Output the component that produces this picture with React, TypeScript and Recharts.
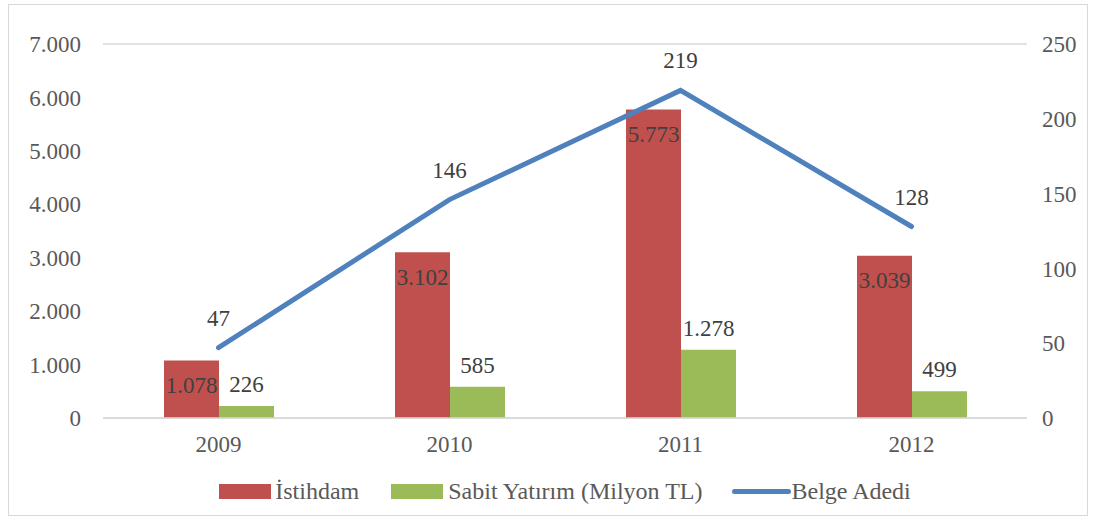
import React from "react";
import {
  ComposedChart,
  CartesianGrid,
  XAxis,
  YAxis,
  Bar,
  Line,
  Legend,
  LabelList
} from "recharts";

const years = ["2009", "2010", "2011", "2012"];
const istihdam = [1078, 3102, 5773, 3039];
const sabitYatirim = [226, 585, 1278, 499];
const belgeAdedi = [47, 146, 219, 128];
const leftTicks = [0, 1000, 2000, 3000, 4000, 5000, 6000, 7000];
const rightTicks = [0, 50, 100, 150, 200, 250];

const data = years.map((year, i) => ({
  year,
  istihdam: istihdam[i],
  sabit: sabitYatirim[i],
  belge: belgeAdedi[i]
}));

const FONT = '"Liberation Serif", "Times New Roman", serif';
const AXIS_COLOR = "#595959";
const LABEL_COLOR = "#404040";
const FS = 23;

const fmt = (v: number | string) =>
  String(v).replace(/\B(?=(\d{3})+(?!\d))/g, ".");

const ChartLegend = () => (
  <div
    style={{
      display: "flex",
      justifyContent: "center",
      alignItems: "center",
      fontFamily: FONT,
      fontSize: 24,
      color: AXIS_COLOR,
      marginLeft: 94,
      marginRight: 60
    }}
  >
    <span style={{ display: "inline-block", width: 52, height: 15, background: "#C0504D", marginRight: 4 }} />
    <span style={{ marginRight: 32 }}>İstihdam</span>
    <span style={{ display: "inline-block", width: 52, height: 15, background: "#9BBB59", marginRight: 5 }} />
    <span style={{ marginRight: 30 }}>Sabit Yatırım (Milyon TL)</span>
    <span style={{ display: "inline-block", width: 59, height: 5, borderRadius: 3, background: "#4F81BD" }} />
    <span>Belge Adedi</span>
  </div>
);

export default function App() {
  return (
    <div
      style={{
        position: "absolute",
        left: 8,
        top: 4,
        width: 1078,
        height: 510,
        border: "1px solid #d9d9d9",
        background: "#fff",
        fontFamily: FONT
      }}
    >
      <ComposedChart
        width={1078}
        height={510}
        data={data}
        margin={{ top: 39, right: 0, bottom: 10, left: 0 }}
        barGap={0}
      >
        <CartesianGrid vertical={false} stroke="#d9d9d9" strokeWidth={1.5} />
        <XAxis
          dataKey="year"
          tickLine={false}
          axisLine={{ stroke: "#d9d9d9", strokeWidth: 1.5 }}
          tickMargin={12}
          height={60}
          tick={{ fill: AXIS_COLOR, fontSize: FS, fontFamily: FONT }}
        />
        <YAxis
          yAxisId="left"
          domain={[0, 7000]}
          ticks={leftTicks}
          tickFormatter={fmt}
          axisLine={false}
          tickLine={false}
          tickSize={0}
          tickMargin={22}
          width={94}
          interval={0}
          tick={{ fill: AXIS_COLOR, fontSize: FS, fontFamily: FONT }}
        />
        <YAxis
          yAxisId="right"
          orientation="right"
          domain={[0, 250]}
          ticks={rightTicks}
          axisLine={false}
          tickLine={false}
          tickSize={0}
          tickMargin={15}
          width={60}
          interval={0}
          tick={{ fill: AXIS_COLOR, fontSize: FS, fontFamily: FONT, textAnchor: "start" }}
        />
        <Legend verticalAlign="bottom" content={<ChartLegend />} />
        <Bar
          yAxisId="left"
          dataKey="istihdam"
          name="İstihdam"
          fill="#C0504D"
          barSize={55}
          isAnimationActive={false}
        >
          <LabelList
            dataKey="istihdam"
            position="insideTop"
            offset={16}
            formatter={fmt}
            fill={LABEL_COLOR}
            fontSize={FS}
            fontFamily={FONT}
          />
        </Bar>
        <Bar
          yAxisId="left"
          dataKey="sabit"
          name="Sabit Yatırım (Milyon TL)"
          fill="#9BBB59"
          barSize={55}
          isAnimationActive={false}
        >
          <LabelList
            dataKey="sabit"
            position="top"
            offset={14}
            formatter={fmt}
            fill={LABEL_COLOR}
            fontSize={FS}
            fontFamily={FONT}
          />
        </Bar>
        <Line
          yAxisId="right"
          dataKey="belge"
          name="Belge Adedi"
          type="linear"
          stroke="#4F81BD"
          strokeWidth={5}
          strokeLinecap="round"
          dot={false}
          activeDot={false}
          isAnimationActive={false}
        >
          <LabelList
            dataKey="belge"
            position="top"
            offset={22}
            fill={LABEL_COLOR}
            fontSize={FS}
            fontFamily={FONT}
          />
        </Line>
      </ComposedChart>
    </div>
  );
}
